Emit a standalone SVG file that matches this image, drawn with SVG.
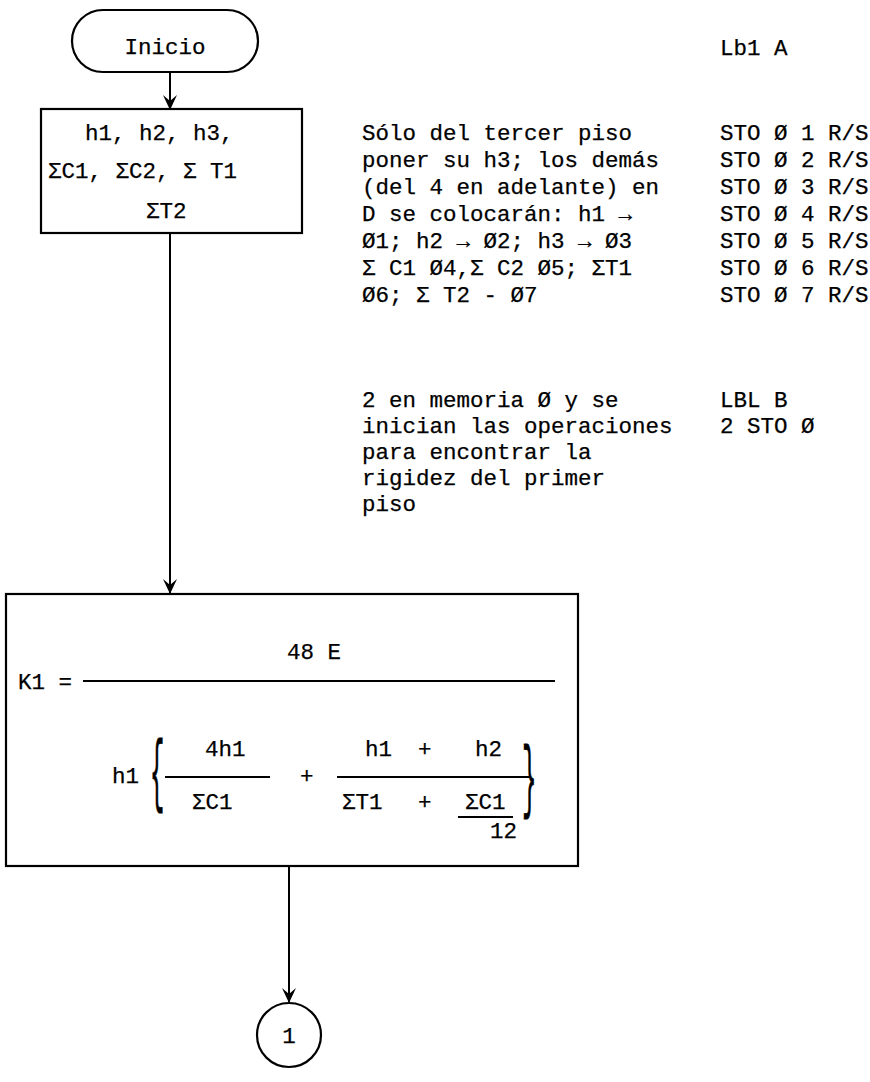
<svg xmlns="http://www.w3.org/2000/svg" width="870" height="1082" viewBox="0 0 870 1082">
<defs>
<style>
.t{font-family:"Liberation Mono","Courier New",monospace;font-size:22.5px;fill:#000;stroke:#000;stroke-width:0.25}
.s{fill:none;stroke:#000;stroke-width:2.2}
.c{fill:none;stroke:#000;stroke-width:2}
</style>
<marker id="ah" viewBox="0 0 16 16" markerWidth="16" markerHeight="16" refX="14" refY="8" orient="auto" markerUnits="userSpaceOnUse">
<path d="M0,1 L15,8 L0,15 L6,8 Z" fill="#000"/>
</marker>
</defs>
<rect x="0" y="0" width="870" height="1082" fill="#fff"/>

<g id="connectors">
<line class="c" x1="170" y1="72" x2="170" y2="109" marker-end="url(#ah)"/>
<line class="c" x1="170" y1="233" x2="170" y2="593" marker-end="url(#ah)"/>
<line class="c" x1="289" y1="866" x2="289" y2="1002" marker-end="url(#ah)"/>
</g>

<g id="inicio">
<rect class="s" x="72" y="10" width="186" height="62" rx="31" ry="31"/>
<text class="t" x="165" y="54" text-anchor="middle">Inicio</text>
</g>

<g id="datos">
<rect class="s" x="41" y="109" width="261" height="124"/>
<text class="t" x="85" y="140">h1, h2, h3,</text>
<text class="t" x="48" y="178">ΣC1, ΣC2, Σ T1</text>
<text class="t" x="146" y="218">ΣT2</text>
</g>

<g id="nota1">
<text class="t" x="362" y="140">Sólo del tercer piso</text>
<text class="t" x="362" y="167">poner su h3; los demás</text>
<text class="t" x="362" y="194">(del 4 en adelante) en</text>
<text class="t" x="362" y="221">D se colocarán: h1 →</text>
<text class="t" x="362" y="248">Ø1; h2 → Ø2; h3 → Ø3</text>
<text class="t" x="362" y="275">Σ C1 Ø4,Σ C2 Ø5; ΣT1</text>
<text class="t" x="362" y="302">Ø6; Σ T2 - Ø7</text>
</g>

<g id="programa1">
<text class="t" x="720" y="55">Lb1 A</text>
<text class="t" x="720" y="140">STO Ø 1 R/S</text>
<text class="t" x="720" y="167">STO Ø 2 R/S</text>
<text class="t" x="720" y="194">STO Ø 3 R/S</text>
<text class="t" x="720" y="221">STO Ø 4 R/S</text>
<text class="t" x="720" y="248">STO Ø 5 R/S</text>
<text class="t" x="720" y="275">STO Ø 6 R/S</text>
<text class="t" x="720" y="302">STO Ø 7 R/S</text>
</g>

<g id="nota2">
<text class="t" x="362" y="407">2 en memoria Ø y se</text>
<text class="t" x="362" y="433">inician las operaciones</text>
<text class="t" x="362" y="459">para encontrar la</text>
<text class="t" x="362" y="485">rigidez del primer</text>
<text class="t" x="362" y="511">piso</text>
</g>

<g id="programa2">
<text class="t" x="720" y="407">LBL B</text>
<text class="t" x="720" y="433">2 STO Ø</text>
</g>

<g id="formula">
<rect class="s" x="6" y="594" width="572" height="272"/>
<text class="t" x="18" y="689">K1 =</text>
<line class="c" x1="83" y1="681" x2="555" y2="681"/>
<text class="t" x="287" y="659">48 E</text>
<text class="t" x="112" y="783">h1</text>
<text class="t" transform="translate(150,796) scale(1,3.3)" style="font-size:24px">{</text>
<text class="t" x="205" y="756">4h1</text>
<line class="c" x1="165" y1="777" x2="270" y2="777"/>
<text class="t" x="300" y="783">+</text>
<text class="t" x="192" y="809">ΣC1</text>
<text class="t" x="365" y="756">h1</text>
<text class="t" x="418" y="756">+</text>
<text class="t" x="475" y="756">h2</text>
<line class="c" x1="337" y1="777" x2="530" y2="777"/>
<text class="t" x="342" y="809">ΣT1</text>
<text class="t" x="418" y="809">+</text>
<text class="t" x="465" y="809">ΣC1</text>
<line class="c" x1="458" y1="817" x2="513" y2="817"/>
<text class="t" x="490" y="838">12</text>
<text class="t" transform="translate(522,802) scale(1,3.3)" style="font-size:24px">}</text>
</g>

<g id="conector1">
<circle class="s" cx="289" cy="1035" r="32"/>
<text class="t" x="289" y="1043" text-anchor="middle">1</text>
</g>
</svg>
